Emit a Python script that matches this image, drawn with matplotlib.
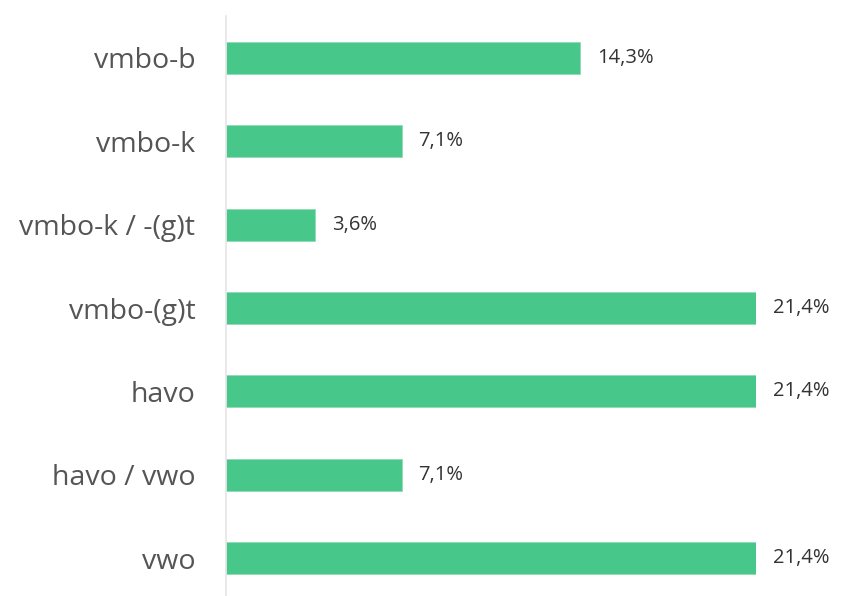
import matplotlib.pyplot as plt
import numpy as np

plt.rcParams['font.family'] = ['Open Sans', 'DejaVu Sans']

categorieen = ['vmbo-b', 'vmbo-k', 'vmbo-k / -(g)t', 'vmbo-(g)t', 'havo', 'havo / vwo', 'vwo']
percentages = [14.3, 7.1, 3.6, 21.4, 21.4, 7.1, 21.4]
labels = ['14,3%', '7,1%', '3,6%', '21,4%', '21,4%', '7,1%', '21,4%']

fig = plt.figure(figsize=(8.43, 5.96), dpi=100)
ax = fig.add_axes([226 / 843, -4 / 596, 530 / 843, 584 / 596])

y = np.arange(len(categorieen))
ax.barh(y, percentages, height=0.385, color='#48c78a', edgecolor='#8fdcb6', linewidth=0.6)

for yi, v, lab in zip(y, percentages, labels):
    ax.annotate(lab, (v, yi), xytext=(12, 0), textcoords='offset points',
                va='center', ha='left', fontsize=14.5, color='#333333', annotation_clip=False)

ax.set_xlim(0, 21.4)
ax.set_ylim(len(categorieen) - 0.5, -0.5)
ax.set_yticks(y)
ax.set_yticklabels(categorieen, fontsize=20.5, color='#555555')
ax.tick_params(axis='y', length=0, pad=22)
ax.set_xticks([])

for s in ['top', 'right', 'bottom']:
    ax.spines[s].set_visible(False)
ax.spines['left'].set_color('#e8e4e6')
ax.spines['left'].set_linewidth(1.2)

plt.savefig('out.png', dpi=100)
